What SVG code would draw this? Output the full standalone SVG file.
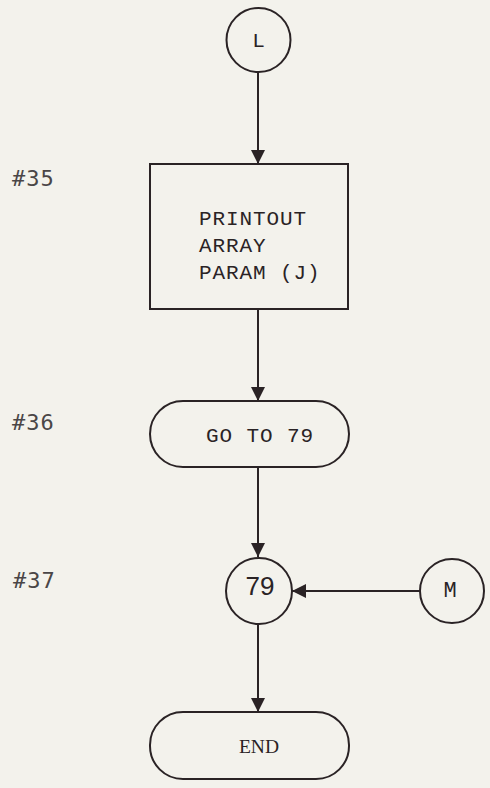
<svg xmlns="http://www.w3.org/2000/svg" width="490" height="788" viewBox="0 0 490 788">
  <defs>
    <marker id="arrow" viewBox="0 0 10 10" refX="10" refY="5" markerWidth="14" markerHeight="14" markerUnits="userSpaceOnUse" orient="auto">
      <path d="M0,0 L10,5 L0,10 Z" fill="#2a2325"/>
    </marker>
    <style>
      .shape { fill: none; stroke: #2a2325; stroke-width: 2; }
      .edge { fill: none; stroke: #2a2325; stroke-width: 2; marker-end: url(#arrow); }
      .mono { font-family: "Liberation Mono", "Courier New", monospace; font-size: 21px; fill: #2a2325; letter-spacing: 0.9px; }
      .step { font-family: "DejaVu Sans Mono", "Liberation Mono", monospace; font-size: 22px; fill: #4a4647; letter-spacing: 1px; }
    </style>
  </defs>
  <rect width="490" height="788" fill="#f3f2ec"/>

  <!-- step numbers -->
  <text class="step" x="12" y="186">#35</text>
  <text class="step" x="12" y="430">#36</text>
  <text class="step" x="13" y="588">#37</text>

  <g id="connectors">
    <line class="edge" x1="258" y1="72" x2="258" y2="164"/>
    <line class="edge" x1="258" y1="309" x2="258" y2="401"/>
    <line class="edge" x1="258" y1="467" x2="258" y2="557"/>
    <line class="edge" x1="420" y1="591" x2="292" y2="591"/>
    <line class="edge" x1="258" y1="624" x2="258" y2="712"/>
  </g>

  <g id="node-L">
    <circle class="shape" cx="258.5" cy="40" r="32"/>
    <text class="mono" x="258.5" y="47" text-anchor="middle" style="letter-spacing: 0">L</text>
  </g>

  <g id="node-printout">
    <rect class="shape" x="150" y="164" width="198" height="145"/>
    <text class="mono" x="199" y="225">PRINTOUT</text>
    <text class="mono" x="199" y="252">ARRAY</text>
    <text class="mono" x="199" y="279">PARAM (J)</text>
  </g>

  <g id="node-goto">
    <rect class="shape" x="150" y="401" width="199" height="66" rx="33" ry="33"/>
    <text class="mono" x="260" y="442" text-anchor="middle">GO TO 79</text>
  </g>

  <g id="node-79">
    <circle class="shape" cx="259" cy="591" r="33"/>
    <text x="260" y="595" text-anchor="middle" style="font-family: 'Liberation Sans', sans-serif; font-size: 26px; fill: #2a2325">79</text>
  </g>

  <g id="node-M">
    <circle class="shape" cx="452" cy="591" r="32"/>
    <text class="mono" x="450" y="597" text-anchor="middle" style="letter-spacing: 0; font-size: 22px">M</text>
  </g>

  <g id="node-end">
    <rect class="shape" x="150" y="712" width="199" height="67" rx="33" ry="33"/>
    <text x="259" y="753" text-anchor="middle" style="font-family: 'Liberation Serif', serif; font-size: 19.5px; fill: #2a2325">END</text>
  </g>
</svg>
